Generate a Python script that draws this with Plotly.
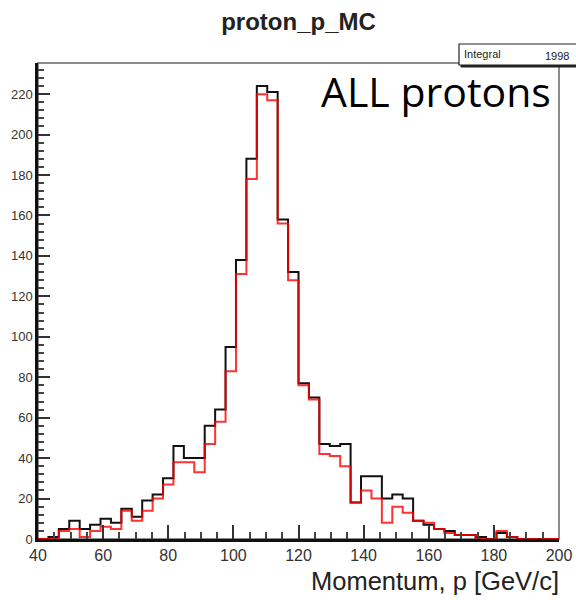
import plotly.graph_objects as go
import numpy as np

# ---- data -------------------------------------------------------------
x_min, x_max, n_bins = 40.0, 200.0, 50
all_counts = [0, 1, 5, 9, 5, 7, 10, 8, 15, 11,
              19, 22, 30, 46, 40, 40, 56, 64, 95, 138,
              188, 224, 221, 158, 132, 77, 70, 47, 46, 47,
              18, 31, 31, 20, 22, 20, 9, 7, 5, 4,
              2, 2, 1, 0, 3, 1, 0, 0, 0, 0]
sel_counts = [0, 0, 4, 5, 1, 4, 6, 5, 14, 9,
              14, 20, 27, 38, 38, 33, 47, 58, 83, 131,
              178, 220, 217, 156, 128, 76, 69, 42, 41, 36,
              18, 24, 20, 8, 16, 13, 9, 8, 5, 3,
              2, 2, 0, 0, 4, 1, 0, 0, 0, 0]
x_ticks = [40, 60, 80, 100, 120, 140, 160, 180, 200]
y_ticks = [0, 20, 40, 60, 80, 100, 120, 140, 160, 180, 200, 220]
integral_value = "1998"
title_text = "proton_p_MC"
x_title = "Momentum, p [GeV/c]"
label_text = "ALL protons"

edges = np.linspace(x_min, x_max, n_bins + 1)

W, H = 576, 600
L, R, T, B = 38, 17, 63, 61
pw, ph = W - L - R, H - T - B


def px(xp):
    return (xp - L) / pw


def py(yp):
    return (H - B - yp) / ph


fig = go.Figure()
fig.add_trace(go.Scatter(
    x=edges, y=list(all_counts) + [all_counts[-1]],
    mode="lines", line=dict(shape="hv", color="#111111", width=2),
    showlegend=False, hoverinfo="skip"))
fig.add_trace(go.Scatter(
    x=edges, y=list(sel_counts) + [sel_counts[-1]],
    mode="lines", line=dict(shape="hv", color="#ff0000", width=2),
    opacity=0.8, showlegend=False, hoverinfo="skip"))

axis_font = dict(family="Liberation Sans, Arial, sans-serif", color="#333333")

fig.update_layout(
    width=W, height=H,
    margin=dict(l=L, r=R, t=T, b=B, autoexpand=False),
    plot_bgcolor="white", paper_bgcolor="white",
    title=dict(text="<b>" + title_text + "</b>", x=0.5, xref="paper", xanchor="center",
               y=1 - 22 / H, yanchor="middle",
               font=dict(family="Liberation Sans, Arial, sans-serif", size=24, color="#222222")),
    xaxis=dict(range=[x_min, x_max], tickvals=x_ticks, ticks="inside",
               ticklen=14, tickwidth=2, tickcolor="#333333",
               minor=dict(dtick=5, tick0=40, ticks="inside", ticklen=7, tickwidth=2,
                          tickcolor="#444444", showgrid=False),
               showgrid=False, zeroline=False, showline=True, linecolor="#111111",
               linewidth=2.5, tickfont=dict(size=16, **axis_font)),
    yaxis=dict(range=[0, 235.4], tickvals=y_ticks, ticks="inside",
               ticklen=12, tickwidth=2, tickcolor="#333333",
               minor=dict(dtick=4, tick0=0, ticks="inside", ticklen=6, tickwidth=2,
                          tickcolor="#444444", showgrid=False),
               showgrid=False, zeroline=False, showline=True, linecolor="#111111",
               linewidth=2.5, tickfont=dict(size=13, **axis_font)),
)

# frame (top/right)
fig.add_shape(type="rect", xref="paper", yref="paper", x0=0, x1=1, y0=0, y1=1,
              line=dict(color="#666666", width=1.5), layer="below")

# stats box with shadow
fig.add_shape(type="rect", xref="paper", yref="paper",
              x0=px(461), x1=px(580), y0=py(67), y1=py(46),
              line=dict(color="#222222", width=1), fillcolor="#222222")
fig.add_shape(type="rect", xref="paper", yref="paper",
              x0=px(459), x1=px(578), y0=py(65), y1=py(44),
              line=dict(color="#222222", width=1.2), fillcolor="white")
fig.add_annotation(text="Integral", xref="paper", yref="paper", x=px(462), y=py(54),
                   xanchor="left", yanchor="middle", showarrow=False,
                   font=dict(family="Liberation Sans, Arial, sans-serif", size=11, color="#222222"))
fig.add_annotation(text=integral_value, xref="paper", yref="paper", x=px(571), y=py(56),
                   xanchor="right", yanchor="middle", showarrow=False,
                   font=dict(family="Liberation Sans, Arial, sans-serif", size=11, color="#222222"))

# label
fig.add_annotation(text=label_text, xref="paper", yref="paper", x=px(319), y=py(91),
                   xanchor="left", yanchor="middle", showarrow=False,
                   font=dict(family="Open Sans, sans-serif", size=41, color="#000000"))

# x-axis title
fig.add_annotation(text=x_title, xref="paper", yref="paper", x=px(561), y=py(581),
                   xanchor="right", yanchor="middle", showarrow=False,
                   font=dict(family="Liberation Sans, Arial, sans-serif", size=25.5, color="#222222"))

fig.write_html("out.html", config={"displayModeBar": False},
               post_script="document.body.style.margin='0px';document.body.style.overflow='hidden';")
